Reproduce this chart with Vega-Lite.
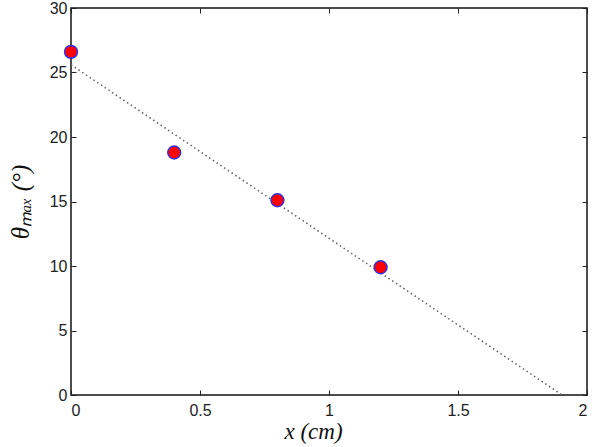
{
  "$schema": "https://vega.github.io/schema/vega-lite/v6.json",
  "autosize": {"type": "none"},
  "width": 516,
  "height": 387,
  "padding": {"left": 71, "top": 8, "right": 7, "bottom": 52},
  "background": "white",
  "config": {
    "view": {"stroke": "#111", "strokeWidth": 1.5},
    "axis": {
      "grid": false,
      "domain": false,
      "tickSize": -5,
      "tickColor": "#222",
      "tickWidth": 1,
      "labelFont": "Liberation Sans",
      "labelFontSize": 16,
      "labelColor": "#222",
      "titleFont": "Liberation Serif",
      "titleFontWeight": "normal",
      "titleColor": "#111"
    }
  },
  "datasets": {
    "pts": [
      {"x": 0, "y": 26.6},
      {"x": 0.4, "y": 18.8},
      {"x": 0.8, "y": 15.1},
      {"x": 1.2, "y": 9.9}
    ],
    "fit": [
      {"x": 0, "y": 25.6},
      {"x": 1.9, "y": 0.05}
    ]
  },
  "resolve": {"axis": {"x": "independent", "y": "independent"}},
  "layer": [
    {
      "data": {"name": "fit"},
      "mark": {"type": "line", "stroke": "#666", "strokeWidth": 1.6, "strokeDash": [1.5, 3], "clip": true},
      "encoding": {
        "x": {"field": "x", "type": "quantitative", "scale": {"domain": [0, 2], "nice": false},
          "axis": {"values": [0, 0.5, 1, 1.5, 2], "format": "~g", "title": "x  (cm)", "titleFontSize": 23, "titleFontStyle": "italic", "labelPadding": 12, "titlePadding": 2, "titleX": 242}},
        "y": {"field": "y", "type": "quantitative", "scale": {"domain": [0, 30], "nice": false},
          "axis": {"values": [0, 5, 10, 15, 20, 25, 30], "title": "θₘₐₓ  (°)", "titleFontSize": 25, "titleFontStyle": "italic", "labelPadding": 9, "titlePadding": 16}}
      }
    },
    {
      "data": {"name": "pts"},
      "mark": {"type": "point", "filled": false, "fill": "#ff0000", "fillOpacity": 1, "stroke": "#3333dd", "strokeWidth": 1.5, "size": 165, "opacity": 1, "clip": false},
      "encoding": {
        "x": {"field": "x", "type": "quantitative",
          "axis": {"orient": "top", "values": [0, 0.5, 1, 1.5, 2], "labels": false, "title": null}},
        "y": {"field": "y", "type": "quantitative",
          "axis": {"orient": "right", "values": [0, 5, 10, 15, 20, 25, 30], "labels": false, "title": null}}
      }
    }
  ]
}
